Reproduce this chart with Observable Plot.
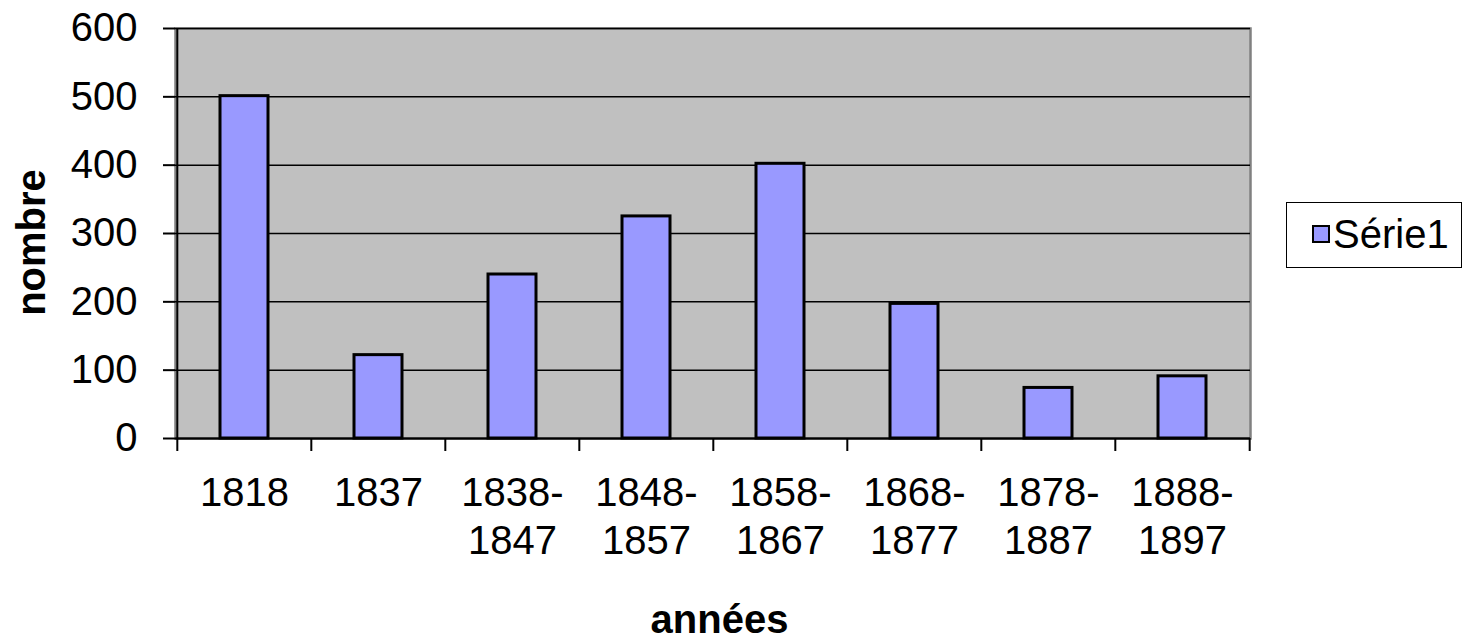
<!DOCTYPE html>
<html>
<head>
<meta charset="utf-8">
<script src="https://cdn.jsdelivr.net/npm/d3@7"></script>
<script src="https://cdn.jsdelivr.net/npm/@observablehq/plot@0.6"></script>
<style>
  html, body { margin: 0; padding: 0; background: white; }
  #wrap { position: relative; width: 1464px; height: 640px; overflow: hidden; font-family: "Liberation Sans", Arial, sans-serif; }
  #legend { position: absolute; left: 1286px; top: 202px; width: 176px; height: 66px; border: 1.5px solid black; background: white; box-sizing: border-box; }
  #legend .sw { position: absolute; left: 25px; top: 22px; width: 18px; height: 18px; background: #9999FF; border: 2px solid black; box-sizing: border-box; }
  #legend .lb { position: absolute; left: 46px; top: 8px; font-size: 40px; line-height: 46px; color: black; }
</style>
</head>
<body>
<div id="wrap"></div>
<script>
const categories = ["1818", "1837", "1838-1847", "1848-1857", "1858-1867", "1868-1877", "1878-1887", "1888-1897"];
const tickLabels = ["1818", "1837", "1838-\n1847", "1848-\n1857", "1858-\n1867", "1868-\n1877", "1878-\n1887", "1888-\n1897"];
const values = [501, 122, 240, 325, 402, 197, 74, 91];
const yTicks = [0, 100, 200, 300, 400, 500, 600];
const seriesName = "Série1";
const xTitle = "années";
const yTitle = "nombre";

const data = categories.map((c, i) => ({cat: c, value: values[i]}));
const labelOf = new Map(categories.map((c, i) => [c, tickLabels[i]]));

const W = 1464, H = 640;
const mL = 175, mR = 214, mT = 28, mB = 202;
const bw = (W - mL - mR) / categories.length;

const chart = Plot.plot({
  width: W,
  height: H,
  marginLeft: mL,
  marginRight: mR,
  marginTop: mT,
  marginBottom: mB,
  style: {fontFamily: "'Liberation Sans', Arial, sans-serif", fontSize: "40px", color: "black", background: "white"},
  x: {type: "band", domain: categories, padding: 0, axis: null},
  y: {domain: [0, 600], axis: null},
  marks: [
    Plot.frame({fill: "#C0C0C0", stroke: "#808080", strokeWidth: 2.5}),
    Plot.gridY(yTicks, {stroke: "black", strokeOpacity: 1, strokeWidth: 1.5}),
    Plot.barY(data, {x: "cat", y: "value", fill: "#9999FF", stroke: "black", strokeWidth: 3, insetLeft: 43, insetRight: 43}),
    Plot.ruleY([0], {stroke: "black", strokeWidth: 2}),
    Plot.ruleX([categories[0]], {dx: -bw / 2, stroke: "black", strokeWidth: 2}),
    Plot.axisY({ticks: yTicks, tickSize: 12, tickPadding: 26, fontSize: 40, stroke: "black", strokeWidth: 2, label: null}),
    Plot.axisX({ticks: categories, tickSize: 13, dx: -bw / 2, fill: "none", stroke: "black", strokeWidth: 2, label: null}),
    Plot.axisX({ticks: [categories[categories.length - 1]], tickSize: 13, dx: bw / 2, fill: "none", stroke: "black", strokeWidth: 2, label: null}),
    Plot.axisX({ticks: categories, tickSize: 0, tickPadding: 33, fontSize: 40, lineHeight: 1.2, tickFormat: (d) => labelOf.get(d), label: null}),
    Plot.text([xTitle], {frameAnchor: "bottom", text: (d) => d, textAnchor: "middle", dx: 6.5, dy: 182, lineAnchor: "middle", fontWeight: "bold", fontSize: 40, fill: "black"}),
    Plot.text([yTitle], {frameAnchor: "left", text: (d) => d, textAnchor: "middle", rotate: -90, dx: -143, dy: 9, lineAnchor: "middle", fontWeight: "bold", fontSize: 40, fill: "black"})
  ]
});

const wrap = document.getElementById("wrap");
wrap.appendChild(chart);
const legend = document.createElement("div");
legend.id = "legend";
legend.innerHTML = `<div class="sw"></div><div class="lb"></div>`;
legend.querySelector(".lb").textContent = seriesName;
wrap.appendChild(legend);
</script>
</body>
</html>
